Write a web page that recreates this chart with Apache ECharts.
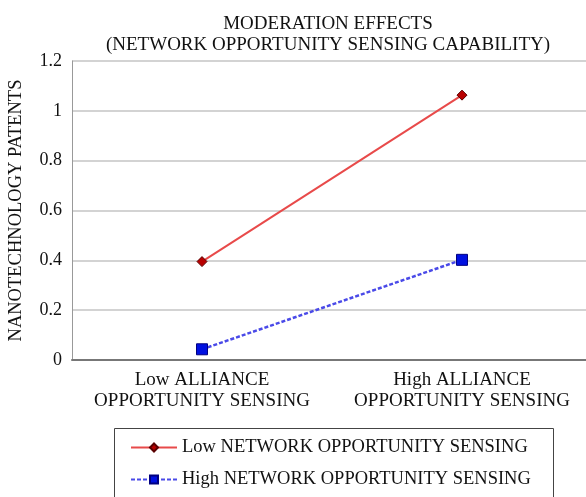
<!DOCTYPE html>
<html><head><meta charset="utf-8">
<script src="https://cdn.jsdelivr.net/npm/echarts@6/dist/echarts.min.js"></script>
<style>html,body{margin:0;padding:0;background:#fff}#c{width:586px;height:497px}</style>
</head><body><div id="c"></div>
<script>
const categories = ['Low ALLIANCE\nOPPORTUNITY SENSING', 'High ALLIANCE\nOPPORTUNITY SENSING'];
const lowNetwork = [0.395, 1.063];
const highNetwork = [0.043, 0.402];
const yTicks = [0, 0.2, 0.4, 0.6, 0.8, 1, 1.2];
const seriesNames = ['Low NETWORK OPPORTUNITY SENSING', 'High NETWORK OPPORTUNITY SENSING'];
const F = '"Liberation Serif", "DejaVu Serif", serif';
const chart = echarts.init(document.getElementById('c'), null, {renderer: 'canvas'});
chart.setOption({
  animation: false,
  textStyle: {fontFamily: F},
  title: {
    text: 'MODERATION EFFECTS\n(NETWORK OPPORTUNITY SENSING CAPABILITY)',
    left: 323, top: 9, textAlign: 'center',
    textStyle: {fontFamily: F, fontSize: 19, fontWeight: 'normal', color: '#111', lineHeight: 21}
  },
  grid: {left: 72, top: 61, width: 520, height: 299, containLabel: false, outerBoundsMode: 'none'},
  xAxis: {
    type: 'category', data: categories, boundaryGap: true,
    axisLine: {lineStyle: {color: '#777', width: 2}},
    axisTick: {show: false},
    axisLabel: {fontFamily: F, fontSize: 19, color: '#111', lineHeight: 21, margin: 10, interval: 0}
  },
  yAxis: {
    type: 'value', min: 0, max: 1.2, interval: 0.2,
    name: 'NANOTECHNOLOGY PATENTS', nameLocation: 'middle', nameGap: 46, nameRotate: 90,
    nameTextStyle: {fontFamily: F, fontSize: 18.5, color: '#111'},
    axisLine: {show: true, lineStyle: {color: '#999', width: 1}},
    axisTick: {show: false},
    splitLine: {lineStyle: {color: '#c4c4c4', width: 1.5}},
    axisLabel: {fontFamily: F, fontSize: 18, color: '#111', margin: 10,
      formatter: v => { const t = yTicks.find(x => Math.abs(x - v) < 1e-9); return t === undefined ? '' : String(t); }}
  },
  graphic: [{
    type: 'rect', left: 112, top: 426, silent: true,
    shape: {width: 439, height: 100},
    style: {fill: 'none', stroke: '#444', lineWidth: 1}
  }],
  legend: {
    orient: 'vertical', left: 112, top: 426,
    padding: [12, 19, 0, 18], itemGap: 13,
    itemWidth: 46, itemHeight: 10,
    textStyle: {fontFamily: F, fontSize: 18.5, color: '#111'},
    data: seriesNames
  },
  series: [
    {
      name: seriesNames[0], type: 'line', data: lowNetwork,
      symbol: 'diamond', symbolSize: 10,
      lineStyle: {color: '#e84a4a', width: 2},
      itemStyle: {color: '#b80000', borderColor: '#5a0000', borderWidth: 1}
    },
    {
      name: seriesNames[1], type: 'line', data: highNetwork,
      symbol: 'rect', symbolSize: 11,
      lineStyle: {color: '#4a4ae8', width: 2.5, type: [4, 2]},
      itemStyle: {color: '#0010e0', borderColor: '#000080', borderWidth: 1}
    }
  ]
});
</script></body></html>
